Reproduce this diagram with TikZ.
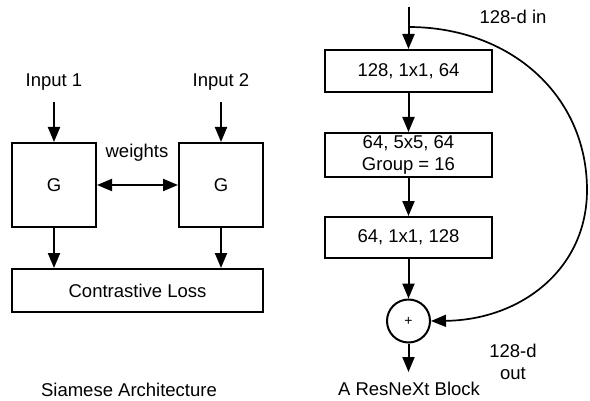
\documentclass[tikz,border=0pt]{standalone}
\usepackage{fontspec}
\setmainfont{Liberation Sans}
\usetikzlibrary{arrows.meta}

\begin{document}
\begin{tikzpicture}[x=1pt,y=1pt,
	font=\fontsize{18.5}{21.5}\selectfont,
	box/.style={draw, line width=2pt, inner sep=0pt},
	lbl/.style={inner sep=0pt},
	arr/.style={line width=2pt, -{Triangle[length=15pt,width=12pt]}},
	dbl/.style={line width=2pt, {Triangle[length=15pt,width=12pt]}-{Triangle[length=15pt,width=12pt]}}]
	\useasboundingbox (0,0) rectangle (590,400);

	% Siamese
	\node[box, minimum width=84, minimum height=84] (g1) at (54,215) {G};
	\node[box, minimum width=84, minimum height=84] (g2) at (221,215) {G};
	\node[box, minimum width=251, minimum height=43] (loss) at (137.5,109.5) {Contrastive Loss};

	\node[lbl] (in1) at (54,318) {Input 1};
	\node[lbl] (in2) at (221,318) {Input 2};
	\node[lbl] (w) at (137,247) {weights};
	\node[lbl] (cap1) at (129,10) {Siamese Architecture};

	\draw[arr, shorten <=11.5pt] (in1) -- (g1);
	\draw[arr, shorten <=11.5pt] (in2) -- (g2);
	\draw[dbl] (g1) -- (g2);
	\draw[arr] (g1) -- (g1 |- loss.north);
	\draw[arr] (g2) -- (g2 |- loss.north);

	% ResNeXt
	\node[box, minimum width=167, minimum height=42] (b1) at (408.5,329) {128, 1x1, 64};
	\node[box, minimum width=167, minimum height=44, align=center] (b2) at (408.5,245) {64, 5x5, 64\\Group = 16};
	\node[box, minimum width=167, minimum height=41] (b3) at (408.5,162.5) {64, 1x1, 128};
	\node[box, circle, minimum size=43, font=\fontsize{14}{16}\selectfont] (sum) at (408.5,79) {+};

	\coordinate (top) at (408.5,393);
	\coordinate (split) at (408.5,373);
	\coordinate (out) at (408.5,28);

	\node[lbl] (din) at (513,383) {128-d in};
	\node[lbl, align=center] (dout) at (513,38) {128-d\\out};
	\node[lbl] (cap2) at (409,11) {A ResNeXt Block};

	\draw[arr] (top) -- (b1);
	\draw[arr] (b1) -- (b2);
	\draw[arr] (b2) -- (b3);
	\draw[arr] (b3) -- (sum);
	\draw[arr] (sum) -- (out);
	\draw[arr, line width=1.7pt] (split) .. controls (510,373) and (587,305) .. (587,210)
		.. controls (587,130) and (520,80) .. (sum.east);
\end{tikzpicture}
\end{document}
